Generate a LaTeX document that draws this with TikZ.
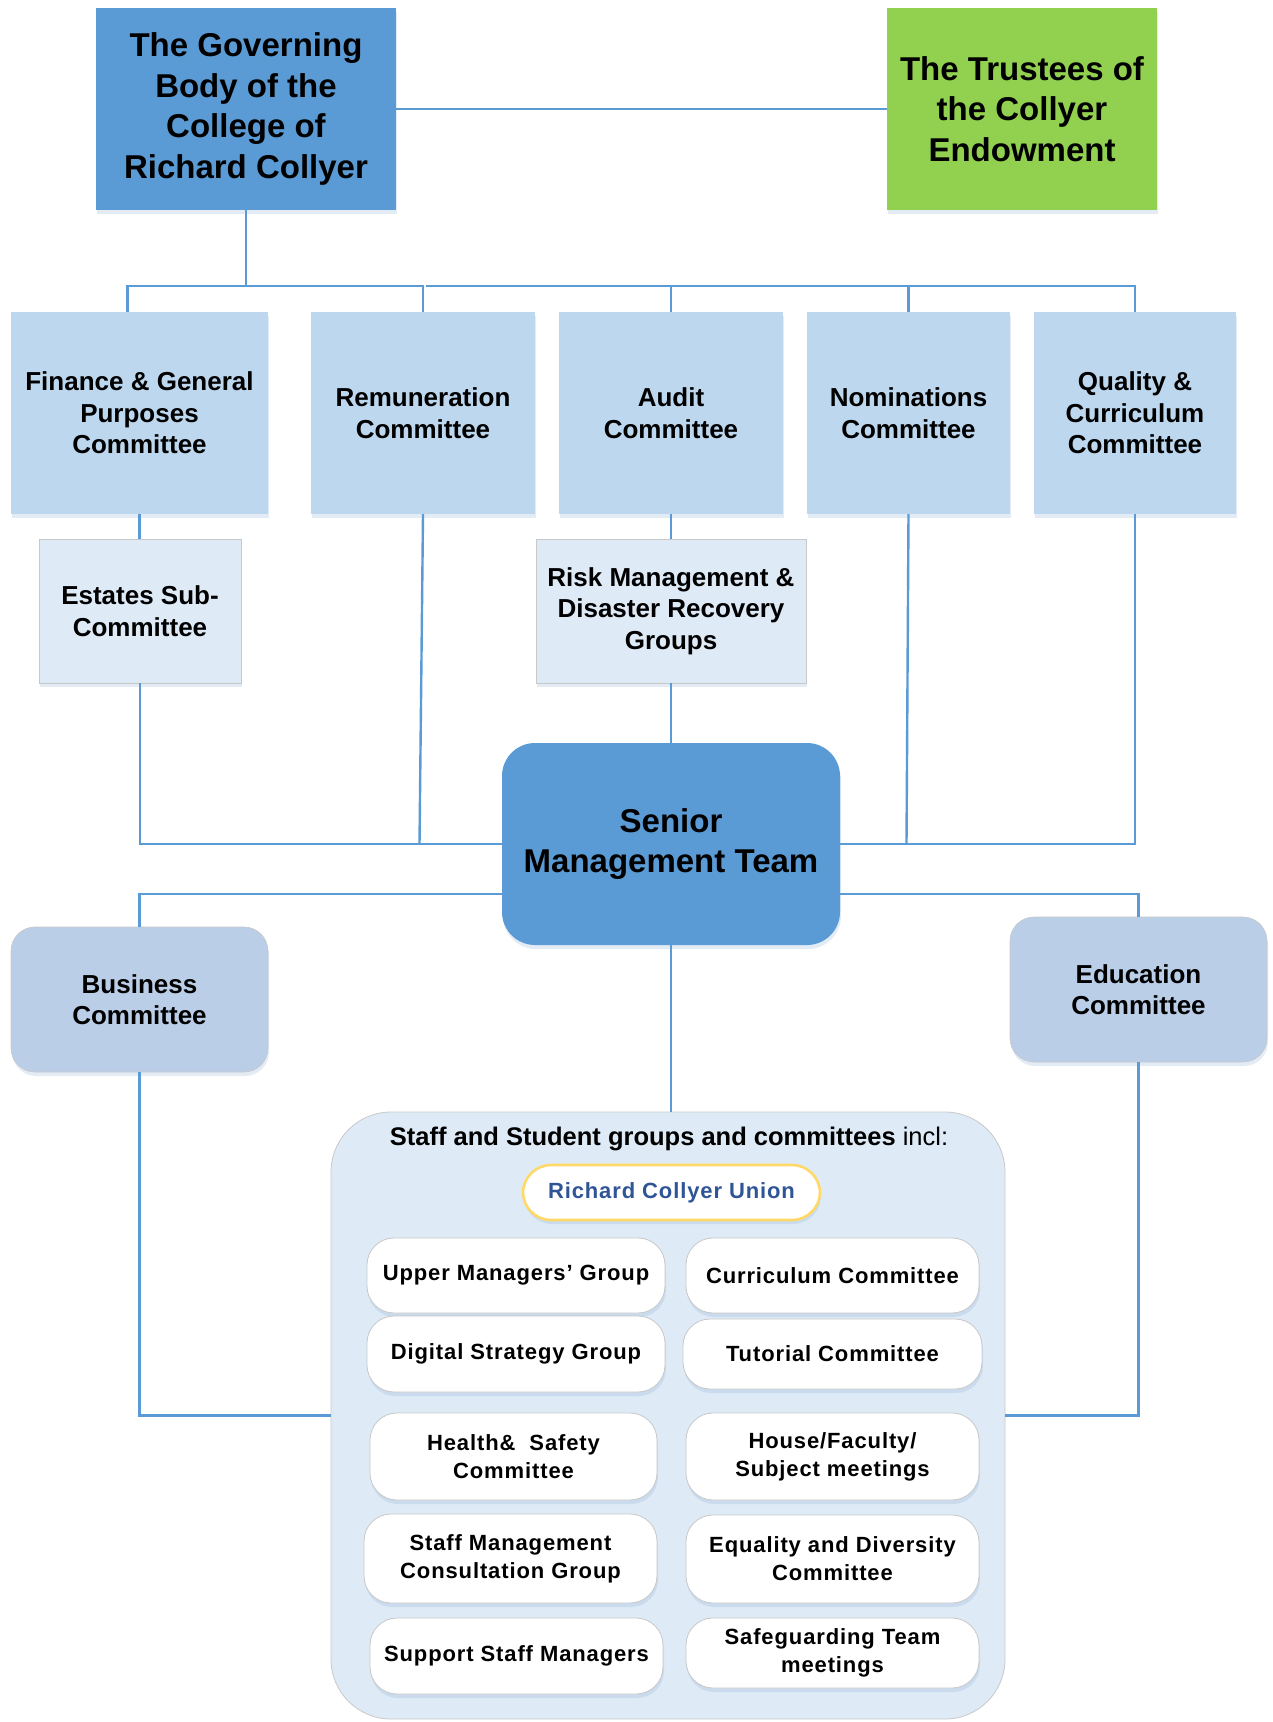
\documentclass[tikz,border=0pt]{standalone}
\usepackage{fontspec}
\setmainfont{Liberation Sans}
\newfontfamily\spacedfont[LetterSpace=4]{Liberation Sans}
\usetikzlibrary{shadows}
\definecolor{cblue}{HTML}{5B9BD5}
\definecolor{cgreen}{HTML}{92D050}
\definecolor{ccomm}{HTML}{BDD7EE}
\definecolor{csub}{HTML}{DEEBF7}
\definecolor{cbe}{HTML}{BACEE8}
\definecolor{cedge}{HTML}{C8C8C8}
\definecolor{cshadow}{HTML}{8FAFD6}
\definecolor{cunion}{HTML}{FFD966}
\definecolor{cuniontext}{HTML}{2F5597}
\begin{document}
\begin{tikzpicture}[x=1pt,y=-1pt,
  conn/.style={draw=cblue, line width=2.4pt},
  shad/.style={drop shadow={shadow xshift=1pt, shadow yshift=-4pt, fill=cshadow, opacity=0.25}},
  bigbox/.style={rectangle, align=center, inner sep=2pt, shad,
    font=\bfseries\fontsize{33}{40.5}\selectfont},
  commbox/.style={rectangle, align=center, inner sep=2pt, shad, fill=ccomm,
    minimum height=202pt, font=\bfseries\fontsize{26}{31.5}\selectfont},
  subbox/.style={rectangle, align=center, inner sep=2pt, shad, fill=csub,
    draw=cedge, line width=0.8pt, minimum height=144pt,
    font=\bfseries\fontsize{26}{31.5}\selectfont},
  bebox/.style={rectangle, rounded corners=24pt, align=center, inner sep=2pt, shad,
    fill=cbe, draw=cedge, line width=0.6pt, minimum width=257pt, minimum height=145pt,
    font=\bfseries\fontsize{26}{31.5}\selectfont},
  innerbox/.style={rectangle, rounded corners=27pt, align=center, inner sep=2pt, shad,
    fill=white, draw=cedge, line width=0.8pt,
    font=\spacedfont\bfseries\fontsize{22}{28}\selectfont},
]
\useasboundingbox (0,0) rectangle (1273,1722);

% top level
\node[bigbox, fill=cblue, minimum width=300pt, minimum height=202pt] (gov) at (246,109)
  {The Governing\\Body of the\\College of\\Richard Collyer};
\node[bigbox, fill=cgreen, minimum width=270pt, minimum height=202pt] (trust) at (1022,109)
  {The Trustees of\\the Collyer\\Endowment};

% committees
\node[commbox, minimum width=257pt] (fin) at (139.5,413) {Finance \& General\\Purposes\\Committee};
\node[commbox, minimum width=224pt] (rem) at (423,413) {Remuneration\\Committee};
\node[commbox, minimum width=224pt] (aud) at (671,413) {Audit\\Committee};
\node[commbox, minimum width=203pt] (nom) at (908.5,413) {Nominations\\Committee};
\node[commbox, minimum width=202pt] (qual) at (1135,413) {Quality \&\\Curriculum\\Committee};

% sub-committees
\node[subbox, minimum width=202pt] (est) at (140,611) {Estates Sub-\\Committee};
\node[subbox, minimum width=270pt] (risk) at (671,611) {Risk Management \&\\Disaster Recovery\\Groups};

% SMT
\node[bigbox, fill=cblue, rounded corners=33pt, minimum width=338pt, minimum height=202pt] (smt) at (671,844)
  {Senior\\Management Team};

% business / education
\node[bebox] (bus) at (139.5,999.5) {Business\\Committee};
\node[bebox] (edu) at (1138.5,989.5) {Education\\Committee};

% staff container
\node[rectangle, rounded corners=60pt, fill=csub, draw=cedge, line width=0.8pt,
  minimum width=674pt, minimum height=607pt] (staff) at (668,1415.5) {};
\node[font=\fontsize{25.5}{30}\selectfont, inner sep=0pt] (stafftitle) at (669,1139)
  {\textbf{Staff and Student groups and committees} incl:};
\node[rectangle, rounded corners=28pt, fill=white, draw=cunion, line width=2.6pt, shad,
  minimum width=297pt, minimum height=55pt, text=cuniontext,
  font=\spacedfont\bfseries\fontsize{22}{28}\selectfont] (union) at (671.5,1192.5)
  {Richard Collyer Union};

\node[innerbox, minimum width=298pt, minimum height=75pt] (l1) at (516,1275.5) {Upper Managers’ Group};
\node[innerbox, minimum width=293pt, minimum height=75pt] (r1) at (832.5,1275.5) {Curriculum Committee};
\node[innerbox, minimum width=298pt, minimum height=76pt] (l2) at (516,1354) {Digital Strategy Group};
\node[innerbox, minimum width=299pt, minimum height=70pt] (r2) at (832.5,1354) {Tutorial Committee};
\node[innerbox, minimum width=287pt, minimum height=87pt] (l3) at (513.5,1456.5) {Health\&~ Safety\\Committee};
\node[innerbox, minimum width=293pt, minimum height=87pt] (r3) at (832.5,1456.5) {House/Faculty/\\Subject meetings};
\node[innerbox, minimum width=293pt, minimum height=89pt] (l4) at (510.5,1558.5) {Staff Management\\Consultation Group};
\node[innerbox, minimum width=293pt, minimum height=88pt] (r4) at (832.5,1559) {Equality and Diversity\\Committee};
\node[innerbox, minimum width=293pt, minimum height=76pt] (l5) at (516.5,1656) {Support Staff Managers};
\node[innerbox, minimum width=293pt, minimum height=70pt] (r5) at (832.5,1653) {Safeguarding Team\\meetings};

% connectors
\coordinate (busL) at (127.5,286);
\coordinate (hA) at (0,894);
\draw[conn] (gov.east) -- (trust.west);
\draw[conn] (gov.south) -- (gov.south |- busL);
\draw[conn] (fin.north -| busL) -- (busL) -- (rem.north |- busL) -- (rem.north);
\draw[conn] ([xshift=3pt]rem.north |- busL) -- (qual.north |- busL) -- (qual.north);
\draw[conn] (aud.north |- busL) -- (aud.north);
\draw[conn] (nom.north |- busL) -- (nom.north);

\draw[conn] (fin.south) -- (fin.south |- est.north);
\draw[conn] (est.south) |- (smt.west);
\draw[conn] (rem.south) -- ([xshift=-3.5pt]rem.south |- smt.west);
\draw[conn] (aud.south) -- (risk.north);
\draw[conn] (risk.south) -- (smt.north);
\draw[conn] (nom.south) -- ([xshift=-2pt]nom.south |- smt.east);
\draw[conn] (qual.south) |- (smt.east);

\draw[conn] (bus.north) |- (smt.west |- hA);
\draw[conn] (edu.north) |- (smt.east |- hA);
\draw[conn] (smt.south) -- (smt.south |- staff.north);
\draw[conn] (bus.south) |- (staff.west);
\draw[conn] (edu.south) |- (staff.east);
\end{tikzpicture}
\end{document}
